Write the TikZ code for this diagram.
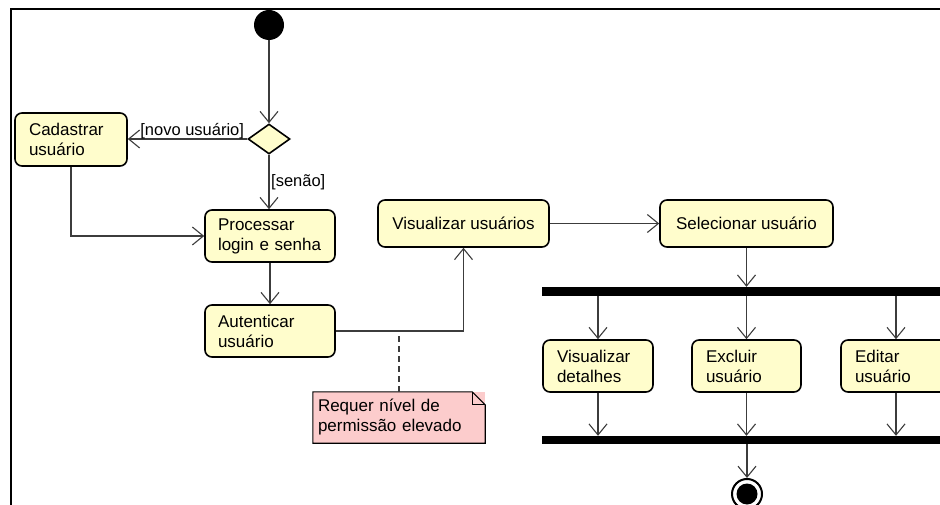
\documentclass[tikz,border=0pt]{standalone}
\usepackage{fontspec}
\setmainfont{Liberation Sans}
\usetikzlibrary{arrows.meta,shapes.geometric}
\definecolor{actfill}{RGB}{255,253,204}
\definecolor{notefill}{RGB}{252,204,204}
\definecolor{wire}{RGB}{60,60,60}
\begin{document}
\begin{tikzpicture}[x=1pt,y=-1pt,
  txt/.style={font=\fontsize{17}{20}\selectfont},
  act/.style={txt, draw=black, fill=actfill, line width=1.6pt,
    rounded corners=7pt, inner xsep=14pt, inner ysep=0pt, align=left},
  act1/.style={act, align=center},
  decision/.style={diamond, draw=black, fill=actfill, line width=1.6pt,
    inner sep=0pt, minimum width=42pt, minimum height=30pt},
  start/.style={circle, fill=black, inner sep=0pt, minimum size=30pt},
  finish/.style={circle, draw=black, fill=white, line width=2pt,
    inner sep=0pt, minimum size=30pt},
  bar/.style={fill=black, inner sep=0pt, minimum height=9pt, minimum width=410pt},
  note/.style={txt, fill=notefill, inner xsep=5pt, inner ysep=0pt,
    align=left, minimum height=51pt},
  lbl/.style={font=\fontsize{16.5}{20}\selectfont, inner sep=0pt},
  arr/.style={draw=wire, line width=1.1pt,
    -{Straight Barb[length=11pt,width=18pt]}},
  wirel/.style={draw=wire, line width=1.1pt},
]
\useasboundingbox (0,0) rectangle (940,505);

% frame
\draw[line width=2pt] (11,505) -- (11,9) -- (945,9);

% nodes
\node[start] (ini) at (269,25) {};
\node[decision] (dec) at (269,139) {};
\node[act, text width=84pt, minimum height=53pt] (cad) at (71,139.5)
  {Cadastrar\\usuário};
\node[act, inner xsep=13pt, text width=104pt, minimum height=52pt] (proc) at (270,236)
  {Processar\\login e senha};
\node[act, inner xsep=13pt, text width=104pt, minimum height=52pt] (aut) at (270,331)
  {Autenticar\\usuário};
\node[act1, minimum width=171pt, minimum height=47pt] (vis) at (463.5,223.5)
  {Visualizar usuários};
\node[act1, minimum width=173pt, minimum height=47pt] (sel) at (746.5,223.5)
  {Selecionar usuário};
\node[bar] (fork) at (747,291.5) {};
\node[act, text width=82pt, minimum height=52pt] (vdet) at (598,366)
  {Visualizar\\detalhes};
\node[act, text width=81pt, minimum height=52pt] (exc) at (746.5,366)
  {Excluir\\usuário};
\node[act, text width=82pt, minimum height=52pt] (edi) at (896,366)
  {Editar\\usuário};
\node[bar, minimum height=8pt] (join) at (747,440) {};
\node[finish] (fin) at (747,494) {};
\fill (fin.center) circle (10.5pt);

% note with folded corner
\node[note, text width=162pt] (nt) at (399,417.5)
  {Requer nível de\\permissão elevado};
\draw[line width=1.1pt]
  (nt.south west) -- (nt.north west) -- ([xshift=-13pt]nt.north east)
  -- ([yshift=-13pt]nt.north east) -- (nt.south east) -- cycle;
\draw[line width=1pt]
  ([xshift=-13pt]nt.north east) -- ([xshift=-13pt,yshift=-13pt]nt.north east)
  -- ([yshift=-13pt]nt.north east);

% connectors
\draw[arr] (ini) -- (dec.north);
\draw[arr] (dec.west) -- (dec.west -| cad.east);
\draw[arr] (dec.south) -- (dec.south |- proc.north);
\draw[arr] (cad.south) |- (proc.west);
\draw[arr] (proc.south) -- (aut.north);
\draw[arr] (aut.east) -| (vis.south);
\draw[arr] (vis.east) -- (sel.west);
\draw[arr] (sel.south) -- (sel.south |- fork.north);
\draw[arr] (fork.south -| vdet.north) -- (vdet.north);
\draw[arr] (fork.south -| exc.north) -- (exc.north);
\draw[arr] (fork.south -| edi.north) -- (edi.north);
\draw[arr] (vdet.south) -- (vdet.south |- join.north);
\draw[arr] (exc.south) -- (exc.south |- join.north);
\draw[arr] (edi.south) -- (edi.south |- join.north);
\draw[arr] (join.south -| fin.north) -- (fin.north);
\draw[wirel, dashed, dash pattern=on 6pt off 4pt] (nt.north) -- (nt.north |- aut.east);

% guard labels
\node[lbl, anchor=base east] at ([xshift=-3pt,yshift=3pt]dec.west) {[novo usuário]};
\node[lbl, anchor=base west] at (271,187) {[senão]};
\end{tikzpicture}
\end{document}
